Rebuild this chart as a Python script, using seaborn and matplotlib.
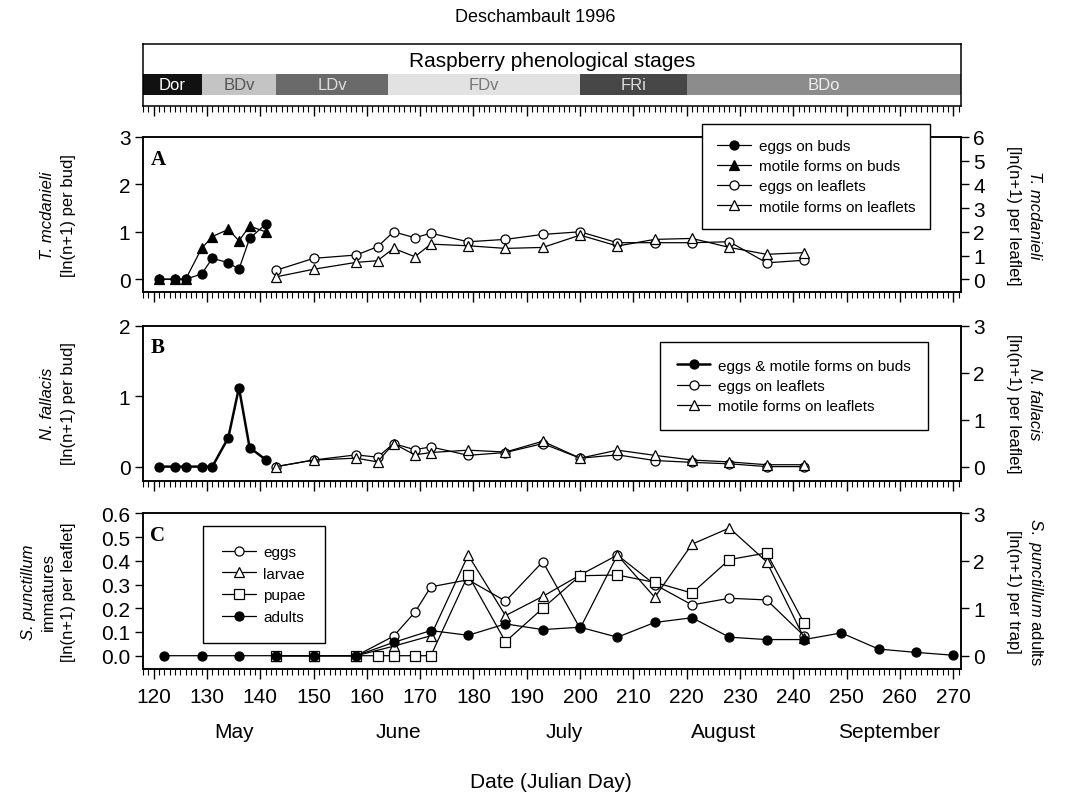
import numpy as np
import pandas as pd
import matplotlib
matplotlib.use("Agg")
import matplotlib.pyplot as plt
import seaborn as sns
from matplotlib.ticker import MultipleLocator, FormatStrFormatter

# phenological stages (Julian day spans)
stage_names = ["Dor", "BDv", "LDv", "FDv", "FRi", "BDo"]
stage_start = [118, 129, 143, 164, 200, 220]
stage_end = [129, 143, 164, 200, 220, 271.4]
stage_colors = ["#111111", "#c4c4c4", "#6a6a6a", "#e2e2e2", "#474747", "#8c8c8c"]
stage_text = ["white", "#555555", "#dddddd", "#777777", "#dddddd", "#eeeeee"]

# panel A - T. mcdanieli
bud_days = [121, 124, 126, 129, 131, 134, 136, 138, 141]
tm_eggs_buds = [0, 0, 0, 0.11, 0.44, 0.35, 0.21, 0.86, 1.16]
tm_motile_buds = [0, 0, 0, 0.65, 0.90, 1.05, 0.81, 1.12, 1.00]
leaf_days = [143, 150, 158, 162, 165, 169, 172, 179, 186, 193, 200, 207, 214, 221, 228, 235, 242]
tm_eggs_leaf = [0.38, 0.88, 1.02, 1.37, 2.0, 1.75, 1.94, 1.58, 1.68, 1.89, 2.0, 1.54, 1.54, 1.54, 1.58, 0.69, 0.80]
tm_motile_leaf = [0.10, 0.42, 0.71, 0.78, 1.30, 0.95, 1.48, 1.41, 1.30, 1.34, 1.86, 1.40, 1.68, 1.72, 1.34, 1.05, 1.12]

# panel B - N. fallacis
nf_buds = [0, 0, 0, 0, 0, 0.41, 1.12, 0.27, 0.10]
nf_eggs_leaf = [0, 0.14, 0.25, 0.20, 0.49, 0.36, 0.42, 0.24, 0.30, 0.49, 0.18, 0.25, 0.13, 0.09, 0.06, 0.0, 0.0]
nf_motile_leaf = [0, 0.14, 0.18, 0.10, 0.49, 0.25, 0.30, 0.35, 0.31, 0.54, 0.18, 0.35, 0.24, 0.14, 0.10, 0.04, 0.04]

# panel C - S. punctillum
egg_days = [143, 150, 158, 165, 169, 172, 179, 186, 193, 200, 207, 214, 221, 228, 235, 242]
sp_eggs = [0, 0, 0, 0.082, 0.183, 0.29, 0.32, 0.23, 0.396, 0.115, 0.424, 0.30, 0.214, 0.242, 0.235, 0.084]
larvae_days = [143, 150, 158, 165, 172, 179, 186, 193, 200, 207, 214, 221, 228, 235, 242]
sp_larvae = [0, 0, 0, 0.04, 0.084, 0.424, 0.169, 0.25, 0.34, 0.424, 0.246, 0.47, 0.538, 0.396, 0.075]
pupae_days = [143, 150, 158, 162, 165, 169, 172, 179, 186, 193, 200, 207, 214, 221, 228, 235, 242]
sp_pupae = [0, 0, 0, 0, 0, 0, 0, 0.34, 0.059, 0.2, 0.337, 0.34, 0.309, 0.264, 0.405, 0.433, 0.138]
adult_days = [122, 129, 136, 143, 150, 158, 165, 172, 179, 186, 193, 200, 207, 214, 221, 228, 235, 242, 249, 256, 263, 270]
sp_adults = [0, 0, 0, 0, 0, 0, 0.28, 0.53, 0.43, 0.67, 0.55, 0.60, 0.39, 0.70, 0.80, 0.39, 0.34, 0.34, 0.48, 0.14, 0.07, 0.01]

month_names = ["May", "June", "July", "August", "September"]
month_pos = [135, 166, 197, 227, 258]

sns.set_theme(style="ticks")
plt.rcParams["font.family"] = ["Liberation Sans", "DejaVu Sans"]
plt.rcParams["mathtext.fontset"] = "custom"
plt.rcParams["mathtext.rm"] = "Liberation Sans"
plt.rcParams["mathtext.it"] = "Liberation Sans:italic"
plt.rcParams["axes.linewidth"] = 1.1
plt.rcParams["axes.edgecolor"] = "black"
plt.rcParams["text.color"] = "black"
plt.rcParams["axes.labelcolor"] = "black"
plt.rcParams["xtick.color"] = "black"
plt.rcParams["ytick.color"] = "black"

W, H = 1072, 803
fig = plt.figure(figsize=(10.72, 8.03), dpi=100)
XL = (118, 271.4)


def px_axes(x0, y0, x1, y1):
    return fig.add_axes([x0 / W, 1 - y1 / H, (x1 - x0) / W, (y1 - y0) / H])


def style_x(ax, labels=False):
    ax.set_xlim(*XL)
    ax.xaxis.set_major_locator(MultipleLocator(10))
    ax.xaxis.set_minor_locator(MultipleLocator(1))
    ax.tick_params(axis="x", which="major", direction="out", length=7, width=1,
                   color="black", labelsize=15, labelbottom=labels, pad=6)
    ax.tick_params(axis="x", which="minor", direction="out", length=4, width=0.8,
                   color="black")


def style_y(ax):
    ax.tick_params(axis="y", which="major", direction="out", length=6, width=1,
                   color="black", labelsize=15, pad=3)
    ax.set_ylabel("")
    ax.set_xlabel("")


def series(ax, x, y, marker, fill, lw=0.9, ms=6.5):
    sns.lineplot(x=x, y=y, ax=ax, color="black", linewidth=lw, marker=marker,
                 markersize=ms, markerfacecolor=fill, markeredgecolor="black",
                 markeredgewidth=0.9, legend=False)
    return ax.lines[-1]


def legend(ax, handles, labels, x0, y0, **kw):
    leg = ax.legend(handles, labels, loc="upper left",
                    bbox_to_anchor=(x0 / W, 1 - y0 / H), bbox_transform=fig.transFigure,
                    borderaxespad=0, frameon=True, fancybox=False, framealpha=1,
                    edgecolor="black", fontsize=11, handlelength=2.2,
                    handletextpad=0.5, **kw)
    leg.get_frame().set_linewidth(1)
    return leg


# phenology strip
axP = px_axes(143, 45, 960.7, 107)
for nm, s, e, c, tc in zip(stage_names, stage_start, stage_end, stage_colors, stage_text):
    axP.barh(0.35, e - s, left=s, height=0.33, color=c, edgecolor="none")
    axP.text((s + e) / 2, 0.35, nm, ha="center", va="center", color=tc, fontsize=12)
axP.set_ylim(0, 1)
axP.set_yticks([])
style_x(axP)
axP.text(0.5, 0.74, "Raspberry phenological stages", transform=axP.transAxes,
         ha="center", va="center", fontsize=15)

# panel A
axA = px_axes(143, 138, 960.7, 293)
axA2 = axA.twinx()
hA = [series(axA, bud_days, tm_eggs_buds, "o", "black"),
      series(axA, bud_days, tm_motile_buds, "^", "black")]
hA += [series(axA2, leaf_days, tm_eggs_leaf, "o", "white"),
       series(axA2, leaf_days, tm_motile_leaf, "^", "white")]
axA.set_ylim(-0.27, 3.0)
axA2.set_ylim(-0.54, 6.0)
axA.set_yticks([0, 1, 2, 3])
axA2.set_yticks(range(0, 7))
style_x(axA)
style_y(axA)
style_y(axA2)
legend(axA2, hA, ["eggs on buds", "motile forms on buds", "eggs on leaflets",
                  "motile forms on leaflets"], 702, 125, borderpad=1.0, labelspacing=0.4)

# panel B
axB = px_axes(143, 326.7, 960.7, 481.7)
axB2 = axB.twinx()
hB = [series(axB, bud_days, nf_buds, "o", "black", lw=1.8)]
hB += [series(axB2, leaf_days, nf_eggs_leaf, "o", "white"),
       series(axB2, leaf_days, nf_motile_leaf, "^", "white")]
axB.set_ylim(-0.2, 2.0)
axB2.set_ylim(-0.3, 3.0)
axB.set_yticks([0, 1, 2])
axB2.set_yticks([0, 1, 2, 3])
style_x(axB)
style_y(axB)
style_y(axB2)
legend(axB2, hB, ["eggs & motile forms on buds", "eggs on leaflets",
                  "motile forms on leaflets"], 660, 343, borderpad=1.1, labelspacing=0.4)

# panel C
axC = px_axes(143, 514.3, 960.7, 670)
axC2 = axC.twinx()
hC = [series(axC, egg_days, sp_eggs, "o", "white"),
      series(axC, larvae_days, sp_larvae, "^", "white"),
      series(axC, pupae_days, sp_pupae, "s", "white")]
hC += [series(axC2, adult_days, sp_adults, "o", "black")]
axC.set_ylim(-0.056, 0.6)
axC2.set_ylim(-0.28, 3.0)
axC.set_yticks(np.arange(0, 0.61, 0.1))
axC.yaxis.set_major_formatter(FormatStrFormatter("%.1f"))
axC2.set_yticks([0, 1, 2, 3])
style_x(axC, labels=True)
style_y(axC)
style_y(axC2)
legend(axC2, hC, ["eggs", "larvae", "pupae", "adults"], 203, 527,
       borderpad=1.25, labelspacing=0.5)

for ax, letter in [(axA, "A"), (axB, "B"), (axC, "C")]:
    ax.text(0.009, 0.86, letter, transform=ax.transAxes, ha="left", va="center",
            fontsize=15, fontweight="bold", family="Liberation Serif")

# months and axis title
for m, d in zip(month_names, month_pos):
    axC.text(d, -0.32, m, ha="center", va="center", fontsize=15)
fig.text(551 / W, 1 - 783 / H, "Date (Julian Day)", ha="center", va="center", fontsize=15)
fig.text(535 / W, 1 - 18 / H, "Deschambault 1996", ha="center", va="center", fontsize=13)


# y axis labels
def vlabel(x, y, s, rot, italic=False):
    fig.text(x / W, 1 - y / H, s, rotation=rot, ha="center", va="center",
             fontsize=12, style="italic" if italic else "normal")


vlabel(48, 215.5, "T. mcdanieli", 90, True)
vlabel(68, 215.5, "[ln(n+1) per bud]", 90)
vlabel(48, 404, "N. fallacis", 90, True)
vlabel(68, 404, "[ln(n+1) per bud]", 90)
vlabel(28, 592, "S. punctillum", 90, True)
vlabel(48, 592, "immatures", 90)
vlabel(68, 592, "[ln(n+1) per leaflet]", 90)

vlabel(1014, 215.5, "[ln(n+1) per leaflet]", 270)
vlabel(1035, 215.5, "T. mcdanieli", 270, True)
vlabel(1014, 404, "[ln(n+1) per leaflet]", 270)
vlabel(1035, 404, "N. fallacis", 270, True)
vlabel(1014, 592, "[ln(n+1) per trap]", 270)
vlabel(1035, 592, r"$\mathit{S.\ punctillum}$ adults", 270)

fig.savefig("out.png", dpi=100)
